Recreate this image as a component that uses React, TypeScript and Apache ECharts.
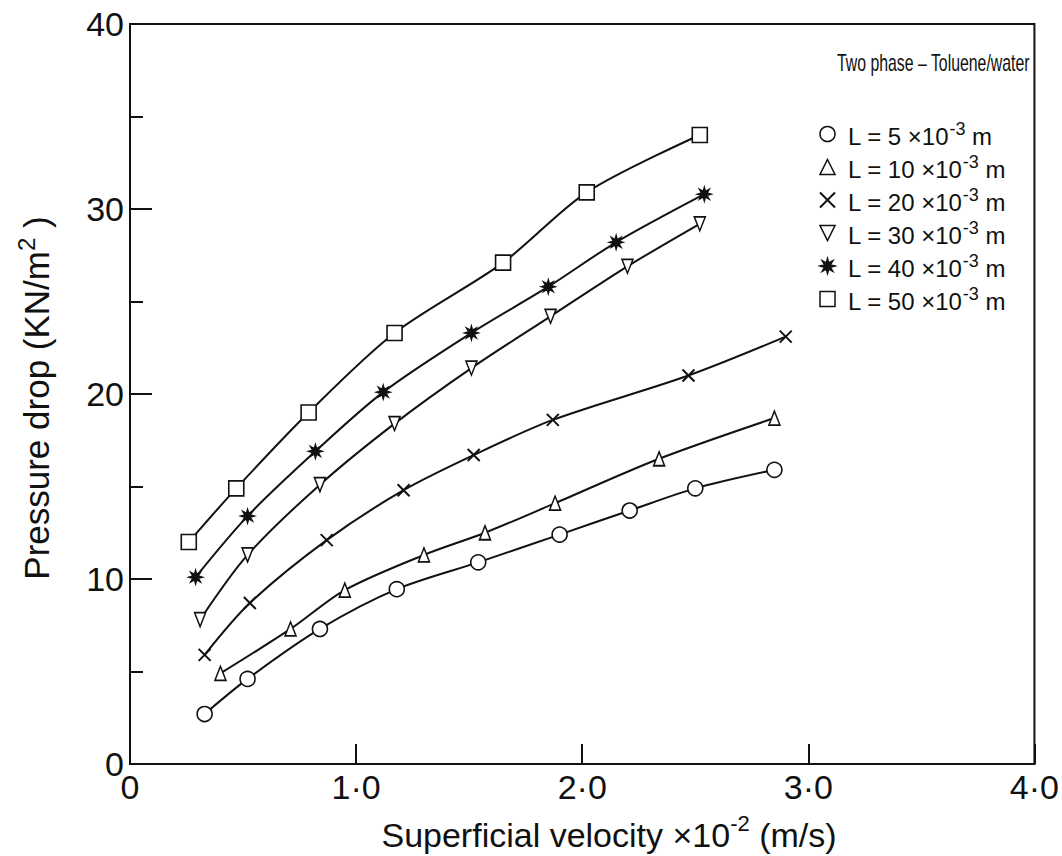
import React, { useEffect, useRef } from "react";
import * as echarts from "echarts";

// ---- data ----
const seriesNames = ["L5", "L10", "L20", "L30", "L40", "L50"];
const legendValues = ["5", "10", "20", "30", "40", "50"];

const l5X = [0.33, 0.52, 0.84, 1.18, 1.54, 1.9, 2.21, 2.5, 2.85];
const l5Y = [2.7, 4.6, 7.3, 9.45, 10.9, 12.4, 13.7, 14.9, 15.9];

const l10X = [0.4, 0.71, 0.95, 1.3, 1.57, 1.88, 2.34, 2.85];
const l10Y = [4.9, 7.3, 9.4, 11.3, 12.5, 14.1, 16.5, 18.7];

const l20X = [0.33, 0.53, 0.87, 1.21, 1.52, 1.87, 2.47, 2.9];
const l20Y = [5.9, 8.7, 12.1, 14.8, 16.7, 18.6, 21.0, 23.1];

const l30X = [0.31, 0.52, 0.84, 1.17, 1.51, 1.86, 2.2, 2.52];
const l30Y = [7.8, 11.3, 15.1, 18.4, 21.4, 24.2, 26.9, 29.2];

const l40X = [0.29, 0.52, 0.82, 1.12, 1.51, 1.85, 2.15, 2.54];
const l40Y = [10.1, 13.4, 16.9, 20.1, 23.3, 25.8, 28.2, 30.8];

const l50X = [0.26, 0.47, 0.79, 1.17, 1.65, 2.02, 2.52];
const l50Y = [12.0, 14.9, 19.0, 23.3, 27.1, 30.9, 34.0];

const xTickLabels = ["0", "1·0", "2·0", "3·0", "4·0"];
const yTickLabels = ["0", "10", "20", "30", "40"];

// ---- styling ----
const FONT = '"Liberation Sans", Arial, sans-serif';
const INK = "#111";

const symCross = "path://M0,0L10,10M10,0L0,10";
const symDown = "path://M0,0L10,0L5,10Z";
const symStar =
  "path://M10,5L7.03,5.84L8.54,8.54L5.84,7.03L5,10L4.16,7.03L1.46,8.54L2.97,5.84L0,5L2.97,4.16L1.46,1.46L4.16,2.97L5,0L5.84,2.97L8.54,1.46L7.03,4.16Z";

const xsList = [l5X, l10X, l20X, l30X, l40X, l50X];
const ysList = [l5Y, l10Y, l20Y, l30Y, l40Y, l50Y];
const symbols = ["circle", "triangle", symCross, symDown, symStar, "rect"];
const symbolSizes: any[] = [15, [11, 14], 12, [11, 14], 13, 15];
const fills = ["#fff", "#fff", INK, "#fff", INK, "#fff"];

function buildOption() {
  const series = seriesNames.map((name, i) => ({
    name,
    type: "line",
    data: xsList[i].map((x, j) => [x, ysList[i][j]]),
    smooth: 0.3,
    symbol: symbols[i],
    symbolSize: symbolSizes[i],
    showAllSymbol: true,
    lineStyle: { color: INK, width: 2 },
    itemStyle: { color: fills[i], borderColor: INK, borderWidth: i === 2 ? 2 : 1.6 },
    z: 3,
  }));

  return {
    animation: false,
    backgroundColor: "#fff",
    grid: {
      left: 130,
      right: 23,
      top: 24,
      bottom: 92,
      show: true,
      borderColor: INK,
      borderWidth: 2,
      backgroundColor: "transparent",
    },
    xAxis: {
      type: "value",
      min: 0,
      max: 4,
      interval: 1,
      axisLine: { show: true, lineStyle: { color: INK, width: 2 } },
      axisTick: { show: true, inside: true, length: 20, lineStyle: { color: INK, width: 2 } },
      splitLine: { show: false },
      axisLabel: {
        margin: 6,
        color: INK,
        fontFamily: FONT,
        fontSize: 34,
        formatter: (v: number) => xTickLabels[Math.round(v)] ?? "",
      },
    },
    yAxis: {
      type: "value",
      min: 0,
      max: 40,
      interval: 10,
      axisLine: { show: true, lineStyle: { color: INK, width: 2 } },
      axisTick: { show: true, inside: true, length: 22, lineStyle: { color: INK, width: 2 } },
      minorTick: { show: true, splitNumber: 2, length: 13, lineStyle: { color: INK, width: 2 } },
      splitLine: { show: false },
      minorSplitLine: { show: false },
      axisLabel: {
        margin: 6,
        color: INK,
        fontFamily: FONT,
        fontSize: 34,
        formatter: (v: number) => yTickLabels[Math.round(v / 10)] ?? "",
      },
    },
    legend: {
      orient: "vertical",
      left: 814,
      top: 115,
      itemWidth: 15,
      itemHeight: 15,
      itemGap: 5,
      selectedMode: false,
      data: seriesNames.map((name, i) => ({
        name,
        icon: symbols[i],
        itemStyle: { color: fills[i], borderColor: INK, borderWidth: i === 2 ? 2 : 1.5 },
      })),
      formatter: (name: string) => {
        const v = legendValues[seriesNames.indexOf(name)];
        return `{t|L = ${v} ×10}{s|-3}{t| m}`;
      },
      textStyle: {
        color: INK,
        fontFamily: FONT,
        padding: [0, 0, 0, 8],
        rich: {
          t: { fontFamily: FONT, fontSize: 24, color: INK, lineHeight: 28, verticalAlign: "bottom" },
          s: { fontFamily: FONT, fontSize: 18, color: INK, lineHeight: 28, verticalAlign: "top" },
        },
      },
    },
    graphic: [
      {
        type: "text",
        x: 837,
        y: 63,
        scaleX: 0.66,
        style: {
          text: "Two phase – Toluene/water",
          fontFamily: FONT,
          fontSize: 24,
          fill: INK,
          align: "left",
          verticalAlign: "middle",
        },
      },
      {
        type: "text",
        x: 34,
        y: 398,
        rotation: Math.PI / 2,
        style: {
          text: "{a|Pressure drop (KN/m}{s|2}{a| )}",
          align: "center",
          verticalAlign: "middle",
          fill: INK,
          rich: {
            a: { fontFamily: FONT, fontSize: 35, fill: INK, lineHeight: 40, verticalAlign: "bottom" },
            s: { fontFamily: FONT, fontSize: 24, fill: INK, lineHeight: 40, verticalAlign: "top" },
          },
        },
      },
      {
        type: "text",
        x: 609,
        y: 832,
        style: {
          text: "{a|Superficial velocity ×10}{s|-2}{a| (m/s)}",
          align: "center",
          verticalAlign: "middle",
          fill: INK,
          rich: {
            a: { fontFamily: FONT, fontSize: 34, fill: INK, lineHeight: 40, verticalAlign: "bottom" },
            s: { fontFamily: FONT, fontSize: 22, fill: INK, lineHeight: 40, verticalAlign: "top" },
          },
        },
      },
    ],
    series,
  };
}

export default function App() {
  const ref = useRef<HTMLDivElement>(null);
  useEffect(() => {
    if (!ref.current) return;
    const chart = echarts.init(ref.current, null, { renderer: "svg" });
    chart.setOption(buildOption() as any);
    return () => chart.dispose();
  }, []);
  return (
    <div
      ref={ref}
      style={{ position: "absolute", left: 0, top: 0, width: 1062, height: 856, background: "#fff" }}
    />
  );
}
